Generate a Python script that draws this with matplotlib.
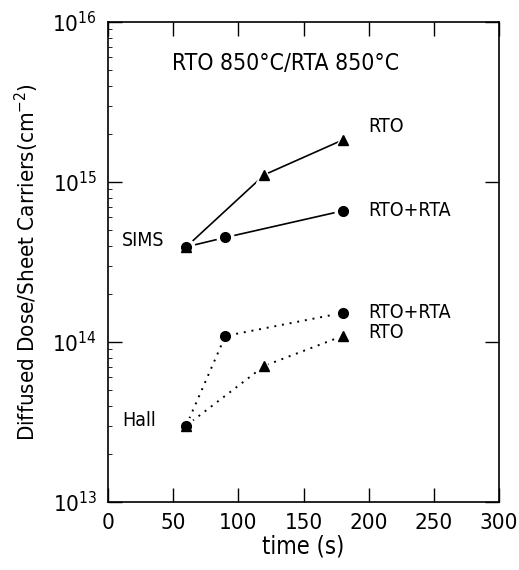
import matplotlib
matplotlib.use("Agg")
import matplotlib.pyplot as plt
from matplotlib.ticker import LogLocator, NullFormatter

plt.rcParams['font.family'] = ['DejaVu Sans']
plt.rcParams['font.stretch'] = 'condensed'
plt.rcParams['mathtext.fontset'] = 'custom'
plt.rcParams['mathtext.rm'] = 'DejaVu Sans:stretch=condensed'
plt.rcParams['mathtext.it'] = 'DejaVu Sans:stretch=condensed'

# SIMS data
sims_rto_t = [60, 120, 180]
sims_rto_v = [3.93e14, 1.11e15, 1.83e15]
sims_rta_t = [60, 90, 180]
sims_rta_v = [3.93e14, 4.5e14, 6.6e14]
# Hall data
hall_rta_t = [60, 90, 180]
hall_rta_v = [3.0e13, 1.09e14, 1.52e14]
hall_rto_t = [60, 120, 180]
hall_rto_v = [3.0e13, 7.1e13, 1.09e14]

x_ticks = [0, 50, 100, 150, 200, 250, 300]
y_ticks = [1e13, 1e14, 1e15, 1e16]
y_ticklabels = [r'$10^{13}$', r'$10^{14}$', r'$10^{15}$', r'$10^{16}$']

fig = plt.figure(figsize=(5.19, 5.70), dpi=100)
ax = fig.add_axes([108/519, 1 - 502/570, (499-108)/519, (502-22)/570])

series = [
    (sims_rto_t, sims_rto_v, '^', '-'),
    (sims_rta_t, sims_rta_v, 'o', '-'),
    (hall_rta_t, hall_rta_v, 'o', (0, (1, 3))),
    (hall_rto_t, hall_rto_v, '^', (0, (1, 3))),
]
for t, v, m, ls in series:
    ax.plot(t, v, color='black', lw=1.2 if ls == '-' else 1.4, ls=ls, zorder=2)
for t, v, m, ls in series:
    ax.plot(t, v, ls='none', marker=m, ms=12, color='white', mec='white', zorder=3)
for t, v, m, ls in series:
    ax.plot(t, v, ls='none', marker=m, ms=7, color='black', mec='black', zorder=4)

ax.set_xlim(0, 300)
ax.set_yscale('log')
ax.set_ylim(1e13, 1e16)
ax.set_xticks(x_ticks)
ax.set_yticks(y_ticks)
ax.set_yticklabels(y_ticklabels)
ax.yaxis.set_minor_locator(LogLocator(base=10, subs=range(2, 10)))
ax.yaxis.set_minor_formatter(NullFormatter())
ax.tick_params(which='major', direction='in', length=10, width=1, top=True, right=True,
               labelsize=16, pad=8)
ax.tick_params(which='minor', direction='in', length=3, width=0.6, left=True, right=False)
for sp in ax.spines.values():
    sp.set_linewidth(1.2)

ax.set_xlabel('time (s)', fontsize=17, labelpad=1)
ax.set_ylabel(r'Diffused Dose/Sheet Carriers(cm$^{-2}$)', fontsize=16, labelpad=8)

fs = 14
ax.text(136, 10**(16 - 41/160), 'RTO 850°C/RTA 850°C', ha='center', va='center', fontsize=16.5)
ax.text(11, 10**(16 - 218/160), 'SIMS', ha='left', va='center', fontsize=fs)
ax.text(11, 10**(16 - 398/160), 'Hall', ha='left', va='center', fontsize=fs)
ax.text(200, 10**(16 - 105/160), 'RTO', ha='left', va='center', fontsize=fs)
ax.text(200, 10**(16 - 189/160), 'RTO+RTA', ha='left', va='center', fontsize=fs)
ax.text(200, 10**(16 - 290/160), 'RTO+RTA', ha='left', va='center', fontsize=fs)
ax.text(200, 10**(16 - 310/160), 'RTO', ha='left', va='center', fontsize=fs)

fig.savefig('out.png', dpi=100)
